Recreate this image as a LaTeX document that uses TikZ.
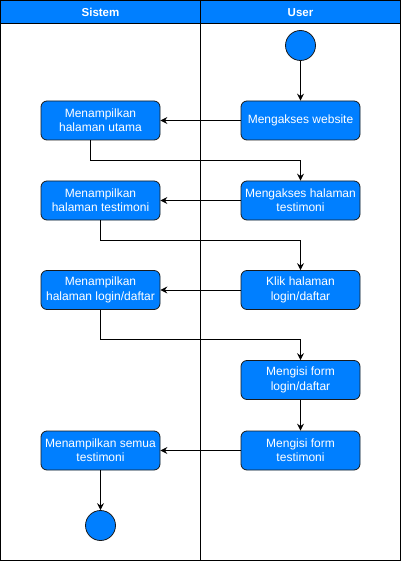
\documentclass[tikz,border=0pt]{standalone}
\usepackage{fontspec}
\setmainfont{Liberation Sans}
\usetikzlibrary{arrows.meta}
\definecolor{dblue}{HTML}{007FFF}
\definecolor{edge}{HTML}{1A1A1A}
\begin{document}
\begin{tikzpicture}[x=1pt,y=-1pt,
  act/.style={draw=edge,line width=0.8pt,fill=dblue,rounded corners=6pt,minimum width=119pt,minimum height=39pt,inner sep=0pt,align=center,text=white,font=\fontsize{12}{14.4}\selectfont},
  dot/.style={circle,draw=edge,line width=0.8pt,fill=dblue,minimum size=30pt,inner sep=0pt},
  flow/.style={line width=0.9pt,-{Stealth[length=7pt,width=7pt,inset=2.5pt]}},
  hdr/.style={text=white,font=\bfseries\fontsize{11.5}{13}\selectfont,inner sep=0pt}]
\useasboundingbox (0,0) rectangle (401,561);
% swimlane frame
\fill[dblue] (0.5,0.5) rectangle (400.5,23.5);
\draw[line width=1pt] (0.5,0.5) rectangle (400.5,560.5);
\draw[line width=1pt] (0.5,23.5) -- (400.5,23.5);
\draw[line width=1pt] (200.5,0.5) -- (200.5,560.5);
\node[hdr] (hs) at (100.5,12.5) {Sistem};
\node[hdr] (hu) at (300.5,12.5) {User};
% nodes
\node[dot] (start) at (300.5,45.5) {};
\node[act] (r1) at (300.5,120.5) {Mengakses website};
\node[act] (l1) at (100.5,120.5) {Menampilkan\\halaman utama};
\node[act] (r2) at (300.5,200.5) {Mengakses halaman\\testimoni};
\node[act] (l2) at (100.5,200.5) {Menampilkan\\halaman testimoni};
\node[act] (r3) at (300.5,290) {Klik halaman\\login/daftar};
\node[act] (l3) at (100.5,290) {Menampilkan\\halaman login/daftar};
\node[act] (r4) at (300.5,380) {Mengisi form\\login/daftar};
\node[act] (r5) at (300.5,450.5) {Mengisi form\\testimoni};
\node[act] (l5) at (100.5,450.5) {Menampilkan semua\\testimoni};
\node[dot] (end) at (100.5,525.5) {};
% connectors
\draw[flow] (start) -- (r1);
\draw[flow] (r1) -- (l1);
\draw[flow] ([xshift=-10.5pt]l1.south) -- ++(0,20) -| (r2.north);
\draw[flow] (r2) -- (l2);
\draw[flow] (l2.south) -- ++(0,20) -| (r3.north);
\draw[flow] (r3) -- (l3);
\draw[flow] (l3.south) -- ++(0,30) -| (r4.north);
\draw[flow] (r4) -- (r5);
\draw[flow] (r5) -- (l5);
\draw[flow] (l5) -- (end);
\end{tikzpicture}
\end{document}
